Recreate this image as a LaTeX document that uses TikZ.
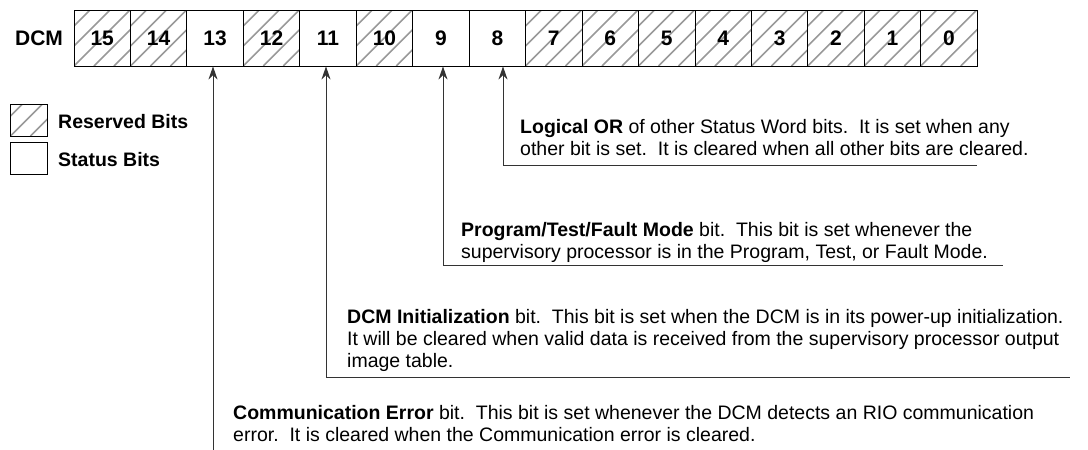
\documentclass[tikz,border=0pt]{standalone}
\usepackage{fontspec}
\setmainfont{Liberation Sans}
\usetikzlibrary{arrows.meta}
\tikzset{
    hatch/.style = {draw=black!40, line width=1.6pt},
    bit_node/.style = {draw=black, line width=0.9pt, minimum width=56.45pt, minimum height=56pt, inner sep=0pt, font=\fontsize{21}{21}\selectfont\bfseries},
    res_node/.style = {bit_node, path picture={
        \foreach \d in {-80,-60,...,60}
            \draw[hatch] ([xshift=\d pt]path picture bounding box.south west) -- ++(80pt,80pt);
    }},
    key_box/.style = {draw=black, line width=1.2pt, minimum width=37pt, minimum height=32pt, inner sep=0pt},
    key_text/.style = {anchor=west, inner sep=0pt, font=\fontsize{19.5}{19.5}\selectfont\bfseries},
    desc/.style = {anchor=base west, align=left, inner sep=0pt, font=\fontsize{19.5}{22}\selectfont},
    lead/.style = {draw=black!80, line width=0.9pt, arrows={Stealth[length=13pt,width=9pt]-}}
}
\begin{document}
\begin{tikzpicture}[x=1pt, y=-1pt]
    \useasboundingbox (0,0) rectangle (1088,450);

    % status word
    \node[font=\fontsize{21}{21}\selectfont\bfseries] (dcm) at (39,38) {DCM};
    \foreach \b/\k/\s in {15/0/res_node, 14/1/res_node, 13/2/bit_node, 12/3/res_node,
                          11/4/bit_node, 10/5/res_node, 9/6/bit_node, 8/7/bit_node,
                          7/8/res_node, 6/9/res_node, 5/10/res_node, 4/11/res_node,
                          3/12/res_node, 2/13/res_node, 1/14/res_node, 0/15/res_node}
        \node[\s] (b\b) at ({74+56.45*(\k+0.5)},38) {\b};

    % key
    \node[key_box, res_node, minimum width=37pt, minimum height=32pt] (kres) at (29,120) {};
    \node[key_box] (kstat) at (29,158.5) {};
    \node[key_text] (tres) at (58,122) {Reserved Bits};
    \node[key_text] (tstat) at (58,160) {Status Bits};

    % leaders
    \coordinate (e8) at (977,165);
    \coordinate (e9) at (1003,265);
    \coordinate (e11) at (1070,377);
    \coordinate (e13) at (213,450);
    \draw[lead] (b8.south -| 503,0) |- (e8);
    \draw[lead] (b9.south -| 443,0) |- (e9);
    \draw[lead] (b11.south -| 326,0) |- (e11);
    \draw[lead] (b13.south -| e13) -- (e13);

    % descriptions (anchored at the last line)
    \node[desc] (t8) at (520,155) {\textbf{Logical OR} of other Status Word bits.\ \ It is set when any\\
        other bit is set.\ \ It is cleared when all other bits are cleared.};
    \node[desc] (t9) at (461,258) {\textbf{Program/Test/Fault Mode} bit.\ \ This bit is set whenever the\\
        supervisory processor is in the Program, Test, or Fault Mode.};
    \node[desc] (t11) at (347,367) {\textbf{DCM Initialization} bit.\ \ This bit is set when the DCM is in its power-up initialization.\\
        It will be cleared when valid data is received from the supervisory processor output\\
        image table.};
    \node[desc] (t13) at (233,441) {\textbf{Communication Error} bit.\ \ This bit is set whenever the DCM detects an RIO communication\\
        error.\ \ It is cleared when the Communication error is cleared.};
\end{tikzpicture}
\end{document}
